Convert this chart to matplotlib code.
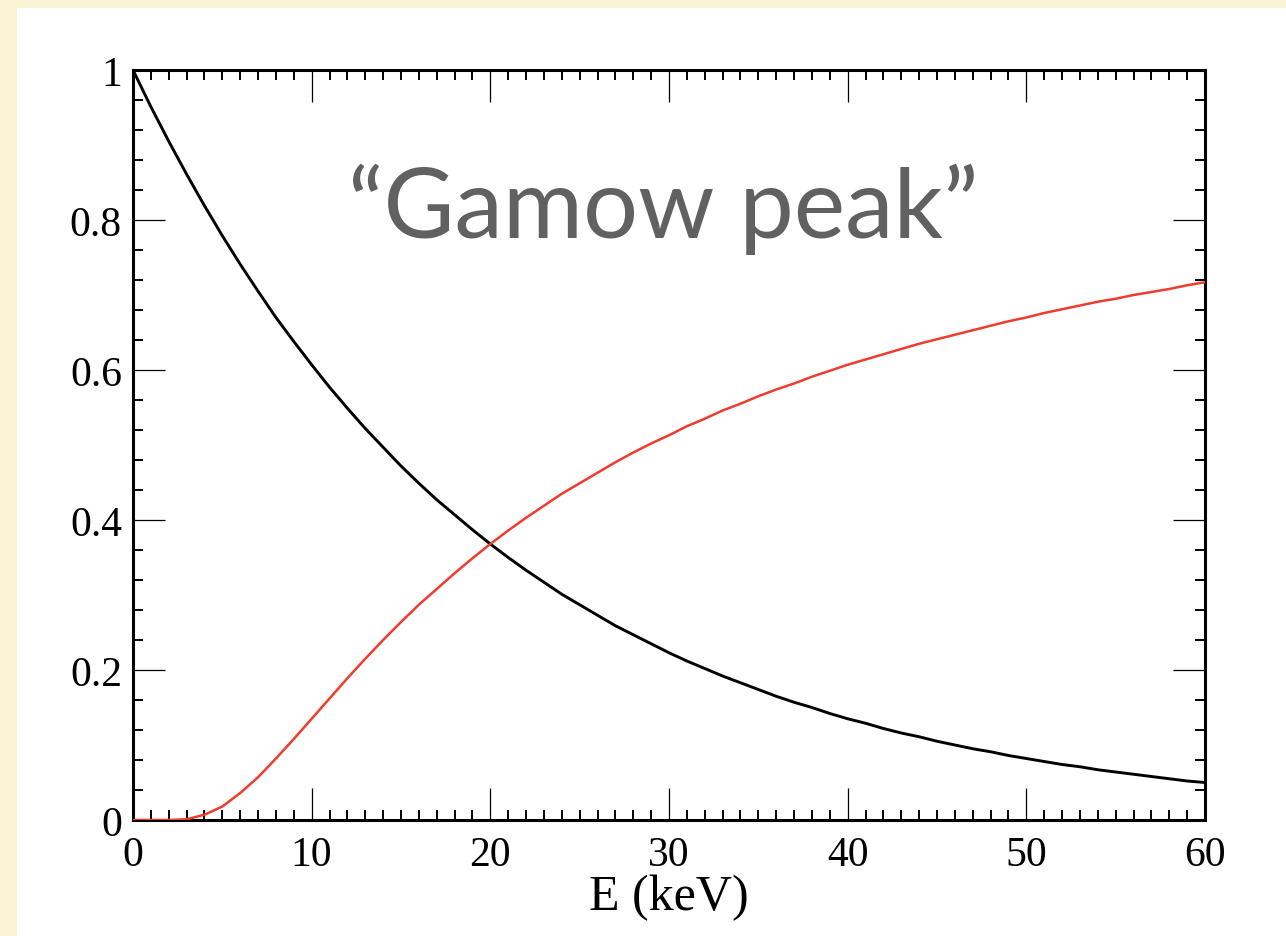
import matplotlib
matplotlib.use("Agg")
import matplotlib.pyplot as plt
from matplotlib.patches import Rectangle
from matplotlib.ticker import MultipleLocator, FixedLocator

# Energy grid (keV) and the two curves
energy_kev = list(range(0, 61))

# Maxwell-Boltzmann factor (falling)
boltzmann = [1.000, 0.951, 0.905, 0.861, 0.819, 0.779, 0.741, 0.705, 0.670, 0.638,
             0.607, 0.577, 0.549, 0.522, 0.497, 0.472, 0.449, 0.427, 0.407, 0.387,
             0.368, 0.350, 0.333, 0.317, 0.301, 0.287, 0.273, 0.259, 0.247, 0.235,
             0.223, 0.212, 0.202, 0.192, 0.183, 0.174, 0.165, 0.157, 0.150, 0.142,
             0.135, 0.129, 0.122, 0.116, 0.111, 0.105, 0.100, 0.095, 0.091, 0.086,
             0.082, 0.078, 0.074, 0.071, 0.067, 0.064, 0.061, 0.058, 0.055, 0.052,
             0.050]

# Tunnelling factor (rising)
tunnelling = [0.000, 0.000, 0.000, 0.001, 0.007, 0.018, 0.036, 0.057, 0.082, 0.108,
              0.135, 0.162, 0.189, 0.215, 0.240, 0.264, 0.287, 0.308, 0.329, 0.349,
              0.368, 0.386, 0.403, 0.419, 0.435, 0.449, 0.463, 0.477, 0.490, 0.502,
              0.513, 0.525, 0.535, 0.546, 0.555, 0.565, 0.574, 0.582, 0.591, 0.599,
              0.607, 0.614, 0.621, 0.628, 0.635, 0.641, 0.647, 0.653, 0.659, 0.665,
              0.670, 0.676, 0.681, 0.686, 0.691, 0.695, 0.700, 0.704, 0.708, 0.713,
              0.717]

x_ticks = [0, 10, 20, 30, 40, 50, 60]
x_tick_labels = ["0", "10", "20", "30", "40", "50", "60"]
y_ticks = [0, 0.2, 0.4, 0.6, 0.8, 1.0]
y_tick_labels = ["0", "0.2", "0.4", "0.6", "0.8", "1"]

x_label = "E (keV)"
annotation = "\u201cGamow peak\u201d"

W, H, DPI = 1286, 937, 100
cream = "#FAF3D6"

fig = plt.figure(figsize=(W / DPI, H / DPI), dpi=DPI, facecolor=cream)

# white slide panel behind everything
panel = fig.add_axes([17 / W, 0, 1 - 17 / W, (H - 9) / H], zorder=-5)
panel.set_axis_off()
panel.add_patch(Rectangle((0, 0), 1, 1, transform=panel.transAxes,
                          facecolor="white", edgecolor="none"))

left, right, top, bottom = 133, 1205, 71, 821
ax = fig.add_axes([left / W, (H - bottom) / H, (right - left) / W, (bottom - top) / H])
ax.set_facecolor("white")

ax.plot(energy_kev, boltzmann, color="black", lw=2.1, solid_joinstyle="round",
        solid_capstyle="round", zorder=3)
ax.plot(energy_kev, tunnelling, color="#F03C2E", lw=1.8, solid_joinstyle="round",
        solid_capstyle="round", zorder=3)

ax.set_xlim(0, 60)
ax.set_ylim(0, 1)

serif = "Liberation Serif"
ax.xaxis.set_major_locator(FixedLocator(x_ticks))
ax.yaxis.set_major_locator(FixedLocator(y_ticks))
ax.set_xticklabels(x_tick_labels, fontfamily=serif, fontsize=30)
ax.set_yticklabels(y_tick_labels, fontfamily=serif, fontsize=30)
ax.xaxis.set_minor_locator(MultipleLocator(1))
ax.yaxis.set_minor_locator(MultipleLocator(0.04))

ax.tick_params(which="both", direction="in", top=True, right=True, colors="black")
ax.tick_params(which="major", length=23, width=0.9)
ax.tick_params(which="minor", length=7.5, width=1.4)
ax.tick_params(axis="x", which="major", pad=11)
ax.tick_params(axis="y", which="major", pad=8)

for sp in ax.spines.values():
    sp.set_linewidth(2.2)
    sp.set_color("black")

ax.set_xlabel(x_label, fontfamily=serif, fontsize=36, labelpad=0)

fig.text(348 / W, (H - 238) / H, annotation, fontfamily="Lato", fontsize=70,
         color="#616161", ha="left", va="baseline")

fig.savefig("out.png", dpi=DPI, facecolor=cream)
